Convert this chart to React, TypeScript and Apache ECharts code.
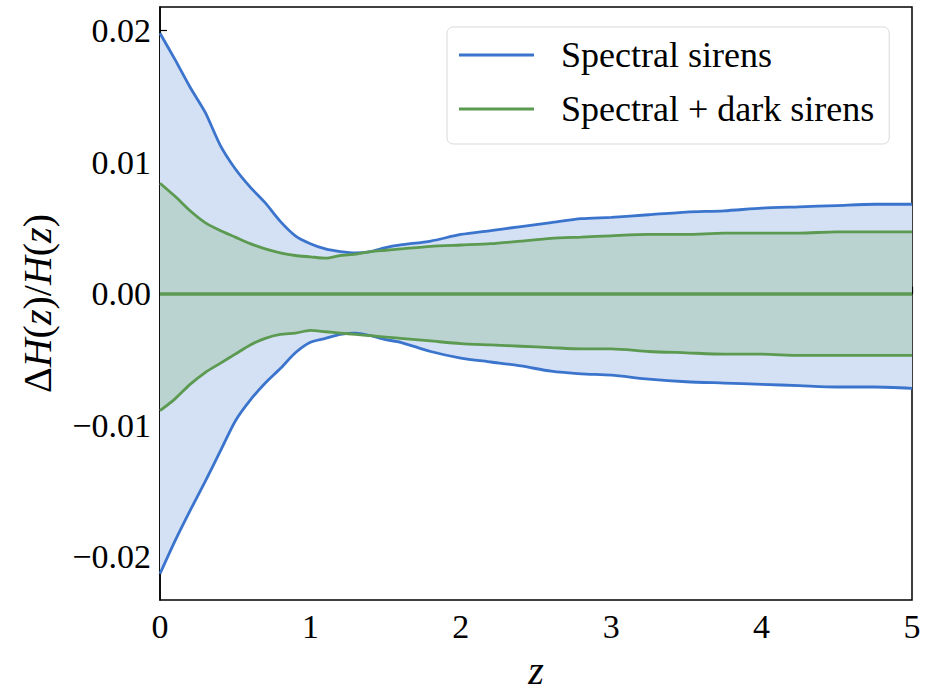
import React, { useEffect, useRef } from "react";
import * as echarts from "echarts";

const zGrid = [0, 0.1, 0.2, 0.3, 0.4, 0.5, 0.6, 0.7, 0.8, 0.9, 1.0, 1.1, 1.2, 1.3, 1.4, 1.5, 1.6, 1.8, 2.0, 2.2, 2.4, 2.6, 2.8, 3.0, 3.25, 3.5, 3.75, 4.0, 4.25, 4.5, 4.75, 5.0];

const spectralUpper = [0.0198, 0.0178, 0.0157, 0.0138, 0.0113, 0.0095, 0.0081, 0.0069, 0.0055, 0.0044, 0.0038, 0.0034, 0.0032, 0.0031, 0.0032, 0.0035, 0.0037, 0.0040, 0.0045, 0.0048, 0.0051, 0.0054, 0.0057, 0.0058, 0.0060, 0.0062, 0.0063, 0.0065, 0.0066, 0.0067, 0.0068, 0.0068];
const spectralLower = [-0.0213, -0.0188, -0.0165, -0.0143, -0.0120, -0.0097, -0.0081, -0.0068, -0.0057, -0.0045, -0.0037, -0.0034, -0.0031, -0.0030, -0.0032, -0.0035, -0.0037, -0.0044, -0.0049, -0.0052, -0.0055, -0.0059, -0.0061, -0.0062, -0.0065, -0.0067, -0.0068, -0.0069, -0.0070, -0.0071, -0.0071, -0.0072];
const darkUpper = [0.0084, 0.0074, 0.0063, 0.0054, 0.0048, 0.0043, 0.0038, 0.0034, 0.0031, 0.0029, 0.0028, 0.0027, 0.0029, 0.0030, 0.0032, 0.0033, 0.0034, 0.0036, 0.0037, 0.0038, 0.0040, 0.0042, 0.0043, 0.0044, 0.0045, 0.0045, 0.0046, 0.0046, 0.0046, 0.0047, 0.0047, 0.0047];
const darkLower = [-0.0089, -0.0080, -0.0069, -0.0060, -0.0053, -0.0046, -0.0039, -0.0034, -0.0031, -0.0030, -0.0028, -0.0029, -0.0030, -0.0031, -0.0032, -0.0033, -0.0034, -0.0036, -0.0038, -0.0039, -0.0040, -0.0041, -0.0042, -0.0042, -0.0044, -0.0045, -0.0046, -0.0046, -0.0047, -0.0047, -0.0047, -0.0047];

const yTicks = [-0.02, -0.01, 0, 0.01, 0.02];
const seriesNames = ["Spectral sirens", "Spectral + dark sirens"];

const BLUE = "#3b74cc";
const GREEN = "#5b9a50";
const BLUE_FILL = "#d4e0f3";
const GREEN_FILL = "#bad3d1";
const FONT = "Liberation Serif";

function bandSeries(name: string, upper: number[], lower: number[], fill: string, z: number) {
  return {
    type: "custom",
    name,
    z,
    silent: true,
    data: zGrid.map((x, i) => [x, upper[i], lower[i]]),
    encode: { x: 0, y: [1, 2] },
    renderItem: (params: any, api: any) => {
      if (params.dataIndex !== 0) return null;
      const pts: number[][] = [];
      for (let i = 0; i < zGrid.length; i++) pts.push(api.coord([zGrid[i], upper[i]]));
      for (let i = zGrid.length - 1; i >= 0; i--) pts.push(api.coord([zGrid[i], lower[i]]));
      return { type: "polygon", shape: { points: pts, smooth: 0 }, style: { fill: fill, stroke: "none" } };
    },
  };
}

function lineSeries(name: string, vals: number[], color: string, z: number) {
  return {
    type: "line",
    name,
    z,
    data: zGrid.map((x, i) => [x, vals[i]]),
    showSymbol: false,
    symbol: "none",
    smooth: 0.25,
    lineStyle: { color, width: 2.8 },
    itemStyle: { color },
  };
}

export default function App() {
  const ref = useRef<HTMLDivElement>(null);
  useEffect(() => {
    if (!ref.current) return;
    const chart = echarts.init(ref.current, null, { renderer: "svg" });
    chart.setOption({
      animation: false,
      backgroundColor: "#fff",
      grid: { left: 160, right: 20, top: 7, bottom: 87, show: true, borderColor: "#000", borderWidth: 1.5, backgroundColor: "transparent" },
      legend: {
        orient: "vertical",
        left: 447,
        top: 27,
        data: seriesNames.map((n) => ({ name: n, icon: "rect" })),
        itemWidth: 75,
        itemHeight: 3,
        itemGap: 18,
        padding: [10, 15, 17, 12],
        borderColor: "#d9d9d9",
        borderWidth: 1,
        borderRadius: 6,
        backgroundColor: "rgba(255,255,255,0.85)",
        textStyle: { fontFamily: FONT, fontSize: 36, color: "#000", padding: [0, 0, 0, 22] },
      },
      xAxis: {
        type: "value",
        min: 0,
        max: 5,
        interval: 1,
        name: "z",
        nameLocation: "middle",
        nameGap: 50,
        nameTextStyle: { fontFamily: FONT, fontSize: 40, fontStyle: "italic", color: "#000" },
        axisLine: { show: true, lineStyle: { color: "#000", width: 1.5 } },
        axisTick: { show: true, inside: true, length: 7, lineStyle: { color: "#000", width: 1.2 } },
        axisLabel: { fontFamily: FONT, fontSize: 34, color: "#000", margin: 9 },
        splitLine: { show: false },
      },
      yAxis: {
        type: "value",
        min: -0.0233,
        max: 0.0218,
        name: "{n|Δ}{i|H}{n|(}{i|z}{n|)/}{i|H}{n|(}{i|z}{n|)}",
        nameLocation: "middle",
        nameRotate: 90,
        nameGap: 103,
        nameTextStyle: {
          color: "#000",
          rich: {
            n: { fontFamily: FONT, fontSize: 40, color: "#000" },
            i: { fontFamily: FONT, fontSize: 40, fontStyle: "italic", color: "#000" },
          },
        },
        axisLine: { show: true, lineStyle: { color: "#000", width: 1.5 } },
        axisTick: { show: true, inside: true, length: 7, customValues: yTicks, lineStyle: { color: "#000", width: 1.2 } },
        axisLabel: {
          fontFamily: FONT,
          fontSize: 34,
          color: "#000",
          margin: 9,
          customValues: yTicks,
          formatter: (v: number) => (v < -1e-9 ? "\u2212" : "") + Math.abs(v).toFixed(2),
        },
        splitLine: { show: false },
      },
      series: [
        bandSeries("band1", spectralUpper, spectralLower, BLUE_FILL, 1),
        bandSeries("band2", darkUpper, darkLower, GREEN_FILL, 2),
        lineSeries(seriesNames[0], spectralUpper, BLUE, 3),
        lineSeries(seriesNames[0], spectralLower, BLUE, 3),
        {
          ...lineSeries(seriesNames[1], darkUpper, GREEN, 4),
          markLine: {
            silent: true,
            symbol: "none",
            label: { show: false },
            lineStyle: { color: GREEN, width: 3.5, type: "solid" },
            data: [{ yAxis: 0 }],
          },
        },
        lineSeries(seriesNames[1], darkLower, GREEN, 4),
      ],
    });
    return () => chart.dispose();
  }, []);
  return <div ref={ref} style={{ width: 932, height: 695, position: "absolute", left: 0, top: 0 }} />;
}
